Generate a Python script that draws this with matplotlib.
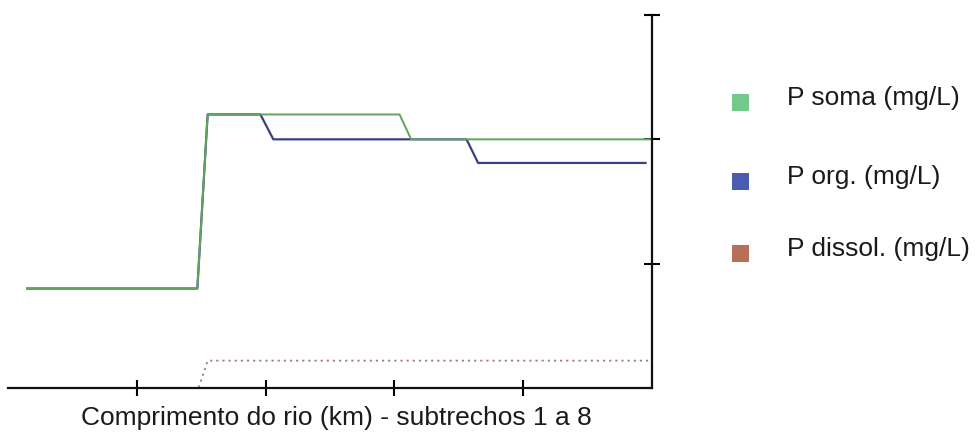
import matplotlib
matplotlib.use("Agg")
import matplotlib.pyplot as plt
from matplotlib.patches import Rectangle

plt.rcParams['font.family'] = ['Liberation Sans', 'DejaVu Sans']

# River length (km) and phosphorus concentrations (mg/L) along subreaches 1-8
soma_km = [1.5, 14.7, 15.5, 30.4, 31.3, 50.0]
soma_val = [0.080, 0.080, 0.220, 0.220, 0.200, 0.200]

org_km = [1.5, 14.7, 15.5, 19.6, 20.6, 35.6, 36.5, 49.5]
org_val = [0.080, 0.080, 0.220, 0.220, 0.200, 0.200, 0.181, 0.181]

dissol_km = [1.5, 14.8, 15.5, 49.7]
dissol_val = [0.000, 0.000, 0.022, 0.022]

series_labels = ["P soma (mg/L)", "P org. (mg/L)", "P dissol. (mg/L)"]
swatch_colors = ["#72c98a", "#4a5cb0", "#b86e58"]

x_ticks = [10, 20, 30, 40]
y_ticks = [0.1, 0.2, 0.3]
x_label = "Comprimento do rio (km) - subtrechos 1 a 8"

W, H = 978, 438
fig = plt.figure(figsize=(W / 100, H / 100), dpi=100)
ax = fig.add_axes([8 / W, (H - 388) / H, 644 / W, 373 / H])

ax.plot(dissol_km, dissol_val, color="#a07c7c", lw=1.3, ls=(0, (1.2, 2.2)))
ax.plot(org_km, org_val, color="#3c3f7e", lw=1.6)
ax.plot(soma_km, soma_val, color="#5fa65c", lw=1.4)

ax.set_xlim(0, 50)
ax.set_ylim(0, 0.3)
ax.set_xticks(x_ticks)
ax.set_yticks(y_ticks)
ax.yaxis.set_ticks_position('right')
ax.tick_params(axis='both', direction='inout', length=12, width=1.5,
               labelbottom=False, labelleft=False, labelright=False)
for side in ('left', 'top'):
    ax.spines[side].set_visible(False)
for side in ('right', 'bottom'):
    ax.spines[side].set_linewidth(1.6)
    ax.spines[side].set_color('#111111')
ax.set_facecolor('white')

fig.text(336 / W, 1 - 418 / H, x_label, ha='center', va='center',
         fontsize=19, color='#1a1a1a')

# Legend swatches and labels on the right
rows_y = [98, 177, 249]
sq = 17
for yc, lab, col in zip(rows_y, series_labels, swatch_colors):
    fig.add_artist(Rectangle(((741 - sq / 2) / W, 1 - (yc + 4 + sq / 2) / H),
                             sq / W, sq / H, transform=fig.transFigure,
                             facecolor=col, edgecolor='none'))
    fig.text(787 / W, 1 - yc / H, lab, ha='left', va='center',
             fontsize=19, color='#1a1a1a')

fig.savefig("out.png", dpi=100, facecolor='white')
